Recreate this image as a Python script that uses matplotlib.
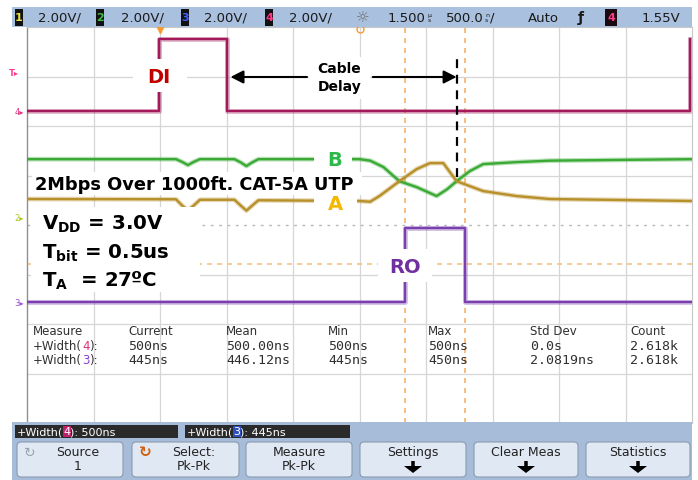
import numpy as np
import matplotlib
matplotlib.use('Agg')
import matplotlib.pyplot as plt
from matplotlib.patches import Rectangle, FancyBboxPatch, FancyArrow

plt.rcParams['font.family'] = ['DejaVu Sans']
plt.rcParams['mathtext.fontset'] = 'dejavusans'
plt.rcParams['mathtext.default'] = 'bf'

W, H = 698, 481

# ---------------- scope status bar ----------------
ch_scales = ['2.00V/', '2.00V/', '2.00V/', '2.00V/']
ch_colors = ['#e8e040', '#3cc040', '#4060ff', '#ff3a8a']
time_delay = '1.500'
time_base = '500.0'
trig_mode = 'Auto'
trig_level = '1.55V'

# ---------------- graticule ----------------
us_per_div = 0.5
v_per_div = 2.0
n_hdiv, n_vdiv = 10, 8

# channel ground positions (divisions from bottom of screen)
ch4_pos = 6.30
ch12_pos = 4.16
ch3_pos = 2.44
trig_level_v = 1.55

# ---------------- waveforms (time in us, volts) ----------------
# channel 4 : DI
di_t = [0.0, 0.995, 0.995, 1.50, 1.50, 4.985, 4.985]
di_v = [0.0, 0.0, 2.9, 2.9, 0.0, 0.0, 2.9]
# channel 1 : A
a_t = [0.0, 1.12, 1.17, 1.21, 1.25, 1.30, 1.56, 1.61, 1.65, 1.69, 1.74,
       2.50, 2.58, 2.65, 2.80, 2.93, 3.03, 3.13, 3.23, 3.33, 3.43, 3.68, 3.93, 5.0]
a_v = [0.73, 0.72, 0.45, 0.28, 0.45, 0.70, 0.70, 0.45, 0.26, 0.45, 0.68,
       0.65, 0.62, 0.85, 1.45, 1.94, 2.18, 2.18, 1.45, 1.25, 1.05, 0.85, 0.73, 0.65]
# channel 2 : B
b_t = [0.0, 1.12, 1.17, 1.21, 1.25, 1.30, 1.56, 1.61, 1.65, 1.69, 1.74,
       2.50, 2.58, 2.68, 2.80, 2.93, 3.08, 3.16, 3.23, 3.33, 3.43, 3.68, 3.93, 5.0]
b_v = [2.34, 2.34, 2.22, 2.10, 2.22, 2.34, 2.34, 2.20, 2.06, 2.20, 2.34,
       2.34, 2.28, 2.02, 1.45, 1.21, 0.85, 1.13, 1.45, 1.86, 2.14, 2.22, 2.28, 2.34]
# channel 3 : RO
ro_t = [0.0, 2.84, 2.84, 3.29, 3.29, 5.0]
ro_v = [0.0, 0.0, 2.98, 2.98, 0.0, 0.0]

# measurement markers
cursor_t = [2.84, 3.29]
ro_threshold_v = 1.53
trigger_t = 1.0
crossing_t = 3.23

# ---------------- measurement table ----------------
meas_headers = ['Measure', 'Current', 'Mean', 'Min', 'Max', 'Std Dev', 'Count']
meas_src = ['4', '3']
meas_src_col = ['#e0307a', '#8a40d0']
meas_vals = [['500ns', '500.00ns', '500ns', '500ns', '0.0s', '2.618k'],
             ['445ns', '446.12ns', '445ns', '450ns', '2.0819ns', '2.618k']]
meas_current = ['500ns', '445ns']

softkeys = [('Source', '1'), ('Select:', 'Pk-Pk'), ('Measure', 'Pk-Pk'),
            ('Settings', None), ('Clear Meas', None), ('Statistics', None)]

# colors
c_di, c_a, c_b, c_ro = '#a3195b', '#b8902a', '#3aaa35', '#7b3fb0'
c_bar = '#a9c0de'

fig = plt.figure(figsize=(W / 100, H / 100), dpi=100)
fig.patch.set_facecolor('white')

# ---------- chrome axes in pixel coordinates ----------
bg = fig.add_axes([0, 0, 1, 1], zorder=0)
bg.set_xlim(0, W)
bg.set_ylim(H, 0)
bg.axis('off')

bg.add_patch(Rectangle((12, 8), 680, 20, color=c_bar, lw=0))
bg.add_patch(Rectangle((12, 423), 680, 58, color='#a7bcd9', lw=0))


def multi_text(ax, x, y, parts, fontsize, transform, va='center', family=None):
    kw = dict(fontsize=fontsize)
    if family:
        kw['family'] = family
    s0, p0 = parts[0]
    t = ax.text(x, y, s0, transform=transform, va=va, ha='left', **{**kw, **p0})
    for s, p in parts[1:]:
        t = ax.annotate(s, xy=(1, 0), xycoords=t, va='bottom', ha='left',
                        **{**kw, **p})
    return t


# status bar
bar_y = 18
fs_bar = 9.5
box_x = [15, 96, 181, 265]
txt_x = [38, 121, 204, 289]
for i in range(4):
    bg.add_patch(Rectangle((box_x[i], 10), 8, 17, color='#111111', lw=0))
    bg.text(box_x[i] + 4, bar_y, str(i + 1), color=ch_colors[i], fontsize=8,
            fontweight='bold', ha='center', va='center')
    bg.text(txt_x[i], bar_y, ch_scales[i], fontsize=fs_bar, color='#1a1a1a',
            ha='left', va='center')
bg.text(363, bar_y, '☼', fontsize=11, color='#707070', ha='center', va='center')
t1 = bg.text(388, bar_y, time_delay, fontsize=fs_bar, color='#1a1a1a', ha='left',
             va='center')
bg.annotate('µ\ns', xy=(1, 0.5), xycoords=t1, xytext=(1, 0),
            textcoords='offset points', fontsize=4.5, color='#1a1a1a',
            ha='left', va='center', linespacing=0.8)
t2 = bg.text(446, bar_y, time_base, fontsize=fs_bar, color='#1a1a1a', ha='left',
             va='center')
t3 = bg.annotate('n\ns', xy=(1, 0.5), xycoords=t2, xytext=(1, 0),
                 textcoords='offset points', fontsize=4.5, color='#1a1a1a',
                 ha='left', va='center', linespacing=0.8)
bg.annotate('/', xy=(1, 0.5), xycoords=t3, xytext=(0.5, 0),
            textcoords='offset points', fontsize=fs_bar, color='#1a1a1a',
            ha='left', va='center')
bg.text(528, bar_y, trig_mode, fontsize=fs_bar, color='#1a1a1a', ha='left',
        va='center')
bg.text(581, bar_y, 'ƒ', fontsize=10, color='#1a1a1a', ha='center', va='center',
        fontweight='bold')
bg.add_patch(Rectangle((605, 10), 12, 17, color='#1a0a10', lw=0))
bg.text(611, bar_y, '4', color='#ff3a8a', fontsize=8, fontweight='bold',
        ha='center', va='center')
bg.text(642, bar_y, trig_level, fontsize=fs_bar, color='#1a1a1a', ha='left',
        va='center')

# ---------- graticule axes ----------
gx0, gx1, gy0, gy1 = 27, 692, 28, 424
ax = fig.add_axes([gx0 / W, 1 - gy1 / H, (gx1 - gx0) / W, (gy1 - gy0) / H],
                  zorder=1)
ax.set_xlim(0, n_hdiv * us_per_div)
ax.set_ylim(0, n_vdiv)
ax.set_facecolor('white')
ax.set_xticks([])
ax.set_yticks([])
for s in ['top', 'right', 'bottom']:
    ax.spines[s].set_color('#c8c8c8')
    ax.spines[s].set_linewidth(0.8)
ax.spines['left'].set_color('#909090')
ax.spines['left'].set_linewidth(1.0)

for k in range(1, n_hdiv):
    ax.axvline(k * us_per_div, color='#d6d6d6', lw=0.9, zorder=1)
for k in range(1, n_vdiv):
    if k == n_vdiv // 2:
        ax.axhline(k, color='#b8b8b8', lw=1.0, ls=(0, (2, 4)), zorder=1)
    else:
        ax.axhline(k, color='#d6d6d6', lw=0.9, zorder=1)

# cursors / threshold
for ct in cursor_t:
    ax.axvline(ct, color='#f6b36b', lw=1.2, ls=(0, (3, 3)), zorder=2)
ax.axhline(ch3_pos + ro_threshold_v / v_per_div, color='#f6c27f', lw=1.2,
           ls=(0, (3, 3)), zorder=2)


def trace(t, v, pos, color):
    y = pos + np.asarray(v) / v_per_div
    ax.plot(t, y, color=color, lw=3.4, alpha=0.35, zorder=3,
            solid_joinstyle='round')
    ax.plot(t, y, color=color, lw=1.7, zorder=3.1, solid_joinstyle='round')


trace(di_t, di_v, ch4_pos, c_di)
trace(b_t, b_v, ch12_pos, c_b)
trace(a_t, a_v, ch12_pos, c_a)
trace(ro_t, ro_v, ch3_pos, c_ro)

# trigger/delay markers at top
ax.plot([trigger_t], [n_vdiv - 0.05], marker='v', color='#f39c32', ms=6,
        clip_on=False, zorder=6)
ax.plot([n_hdiv * us_per_div / 2], [n_vdiv - 0.05], marker='o', mfc='none',
        mec='#f39c32', ms=5, clip_on=False, zorder=6)

# left channel markers
yb = ax.get_yaxis_transform()
ax.text(-0.012, ch4_pos + trig_level_v / v_per_div, 'T▸', transform=yb,
        ha='right', va='center', color='#ff3a8a', fontsize=6, fontweight='bold')
ax.text(-0.004, ch4_pos, '4▸', transform=yb, ha='right', va='center',
        color='#e0307a', fontsize=6)
ax.text(-0.004, ch12_pos, '2▸', transform=yb, ha='right', va='center',
        color='#a8c820', fontsize=6)
ax.text(-0.004, ch3_pos, '3▸', transform=yb, ha='right', va='center',
        color='#9a50d0', fontsize=6)

# ---------- annotations ----------
def white_box(t0, t1, d0, d1):
    ax.add_patch(Rectangle((t0, d0), t1 - t0, d1 - d0, color='white', lw=0,
                           zorder=5))


white_box(0.80, 1.20, 6.69, 7.35)
ax.text(0.995, 7.0, 'DI', color='#c00000', fontsize=14, fontweight='bold',
        ha='center', va='center', zorder=6)

white_box(2.12, 2.58, 6.55, 7.40)
ax.text(2.35, 6.99, 'Cable\nDelay', color='black', fontsize=10,
        fontweight='bold', ha='center', va='center', linespacing=1.35, zorder=6)
arrow_kw = dict(arrowstyle='-|>,head_length=0.55,head_width=0.28', color='black',
                lw=1.5, shrinkA=0, shrinkB=0, mutation_scale=14)
ax.annotate('', xy=(1.53, 6.99), xytext=(2.105, 6.99), arrowprops=arrow_kw,
            zorder=6)
ax.annotate('', xy=(crossing_t, 6.99), xytext=(2.60, 6.99), arrowprops=arrow_kw,
            zorder=6)
ax.plot([crossing_t, crossing_t], [4.97, 7.37], color='black', lw=1.6,
        ls=(0, (4, 3)), zorder=6)

white_box(0.04, 2.52, 4.60, 5.07)
ax.text(0.06, 4.83, '2Mbps Over 1000ft. CAT-5A UTP', color='black', fontsize=12.8,
        fontweight='bold', ha='left', va='center', zorder=6)
white_box(2.16, 2.44, 5.10, 5.56)
ax.text(2.316, 5.33, 'B', color='#2db84a', fontsize=14, fontweight='bold',
        ha='center', va='center', zorder=6)
white_box(2.16, 2.48, 4.26, 4.60)
ax.text(2.316, 4.44, 'A', color='#f5b800', fontsize=14, fontweight='bold',
        ha='center', va='center', zorder=6)

white_box(0.03, 1.30, 2.65, 4.36)
fs_big = 14.2
ax.text(0.113, 3.92, r'V$_\mathbf{DD}$ = 3.0V', color='black', fontsize=fs_big,
        fontweight='bold', ha='left', va='baseline', zorder=6)
ax.text(0.113, 3.33, r'T$_\mathbf{bit}$ = 0.5us', color='black', fontsize=fs_big,
        fontweight='bold', ha='left', va='baseline', zorder=6)
ax.text(0.113, 2.77, r'T$_\mathbf{A}$  = 27ºC', color='black', fontsize=fs_big,
        fontweight='bold', ha='left', va='baseline', zorder=6)

white_box(2.64, 3.045, 2.85, 3.52)
ax.text(2.84, 3.17, 'RO', color='#7030a0', fontsize=14, fontweight='bold',
        ha='center', va='center', zorder=6)

# ---------- measurement table (pixel coords) ----------
col_x = [33, 128, 226, 328, 428, 530, 630]
row_y = [332, 347, 361]
for cx, hd in zip(col_x, meas_headers):
    bg.text(cx, row_y[0], hd, fontsize=8.5, color='#303030', ha='left',
            va='center', zorder=10)
for r in range(2):
    multi_text(bg, col_x[0], row_y[r + 1],
               [('+Width(', dict(color='#303030')),
                (meas_src[r], dict(color=meas_src_col[r])),
                ('):', dict(color='#303030'))],
               8.5, bg.transData)
    for cx, val in zip(col_x[1:], meas_vals[r]):
        bg.text(cx, row_y[r + 1], val, fontsize=9.5, color='#303030',
                family='DejaVu Sans Mono', ha='left', va='center')
# bring chrome texts above graticule
bg.set_zorder(2)
bg.patch.set_visible(False)

# ---------- bottom bar ----------
meas_box_x = [(15, 178), (185, 350)]
box_col = ['#c0206a', '#3050c0']
for i, (x0, x1) in enumerate(meas_box_x):
    bg.add_patch(Rectangle((x0, 426), x1 - x0, 13, color='#2a2a2a', lw=0))
    multi_text(bg, x0 + 2, 432.5,
               [('+Width(', dict(color='white')),
                (meas_src[i], dict(color='white',
                                   bbox=dict(facecolor=box_col[i], edgecolor='none',
                                             pad=0.3))),
                ('): ' + meas_current[i], dict(color='white'))],
               8, bg.transData)

key_x = [(17, 123), (132, 239), (246, 352), (360, 466), (474, 578), (586, 690)]
for (x0, x1), (l1, l2) in zip(key_x, softkeys):
    bg.add_patch(FancyBboxPatch((x0, 443), x1 - x0, 35,
                                boxstyle='round,pad=0,rounding_size=4',
                                fc='#dfe8f3', ec='#8a9bb0', lw=0.8))
    cx = (x0 + x1) / 2 + (8 if l1 in ('Source', 'Select:') else 0)
    if l2 is not None:
        bg.text(cx, 453, l1, fontsize=9, color='#222222', ha='center', va='center')
        bg.text(cx, 467, l2, fontsize=9, color='#222222', ha='center', va='center')
    else:
        bg.text(cx, 453, l1, fontsize=9, color='#222222', ha='center', va='center')
        bg.add_patch(FancyArrow(cx, 462, 0, 12, width=3.5, head_width=18,
                                head_length=7, length_includes_head=True,
                                color='black', lw=0))
bg.text(30, 453, '↻', fontsize=10, color='#9aa4b0', ha='center', va='center')
bg.text(145, 453, '↻', fontsize=11, color='#d06010', ha='center', va='center',
        fontweight='bold')

fig.savefig('out.png', dpi=100, facecolor='white')
